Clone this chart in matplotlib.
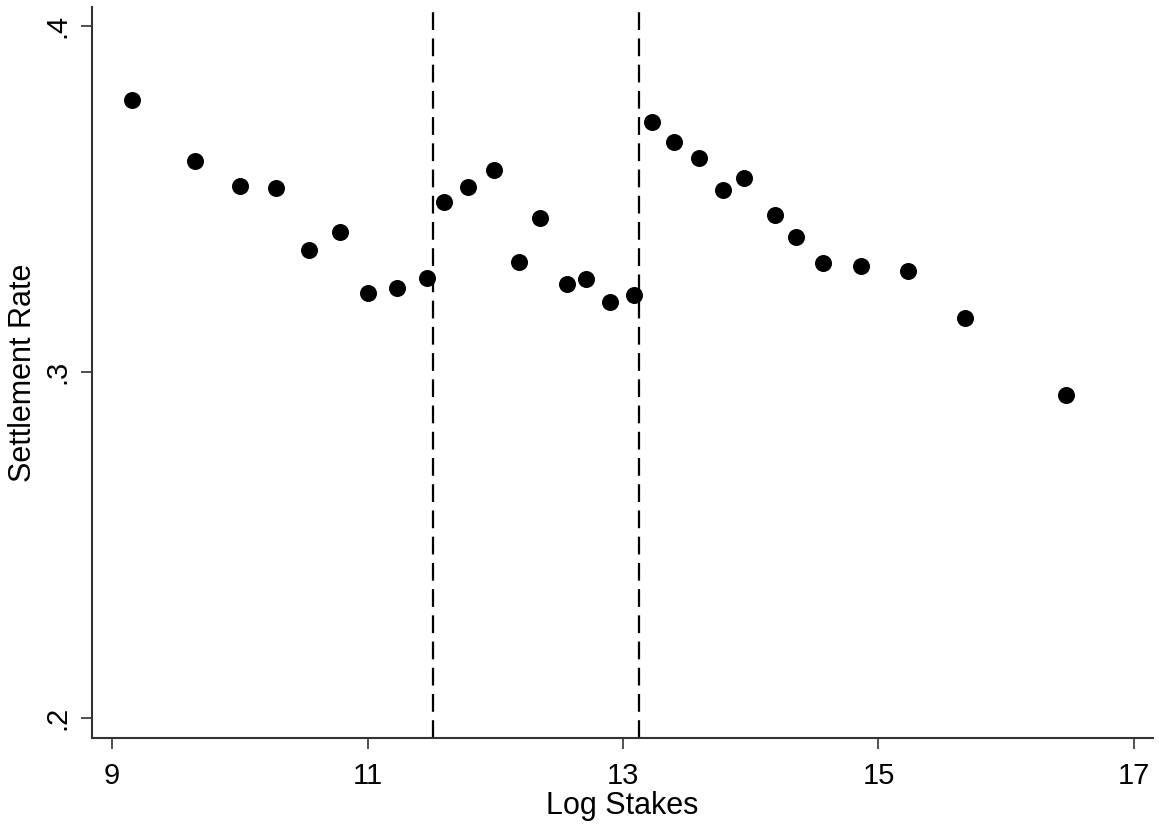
import numpy as np
import matplotlib.pyplot as plt

# binned means: log stakes vs settlement rate
log_stakes = [9.157, 9.652, 10.000, 10.286, 10.540, 10.787, 11.001, 11.234,
              11.468, 11.596, 11.789, 11.993, 12.186, 12.348, 12.562, 12.710,
              12.901, 13.088, 13.229, 13.402, 13.595, 13.785, 13.945, 14.187,
              14.354, 14.563, 14.863, 15.228, 15.675, 16.469]
settle_rate = [0.3785, 0.3608, 0.3537, 0.3530, 0.3352, 0.3403, 0.3229, 0.3243,
               0.3272, 0.3491, 0.3534, 0.3582, 0.3317, 0.3444, 0.3254, 0.3267,
               0.3201, 0.3221, 0.3723, 0.3663, 0.3618, 0.3525, 0.3561, 0.3454,
               0.3390, 0.3315, 0.3307, 0.3292, 0.3155, 0.2934]

# thresholds (log of 100k and 500k)
cutoffs = [np.log(100000), np.log(500000)]

x_ticks = [9, 11, 13, 15, 17]
y_ticks = [0.2, 0.3, 0.4]
y_tick_labels = ['.2', '.3', '.4']

plt.rcParams['font.family'] = ['Liberation Sans', 'DejaVu Sans']

fig = plt.figure(figsize=(11.59, 8.26), dpi=100)
ax = fig.add_axes([0.0794, 0.1065, 0.9154, 0.885])

ax.scatter(log_stakes, settle_rate, s=150, color='black', zorder=3, linewidths=0)
for c in cutoffs:
    ax.axvline(c, color='black', linestyle=(0, (8, 3.8)), linewidth=1.6, zorder=2)

ax.set_xlim(8.843, 17.149)
ax.set_ylim(0.1942, 0.4054)
ax.set_xticks(x_ticks)
ax.set_yticks(y_ticks)
ax.set_yticklabels(y_tick_labels, rotation=90, va='center')

for side in ['top', 'right']:
    ax.spines[side].set_visible(False)
for side in ['left', 'bottom']:
    ax.spines[side].set_color('#333333')
    ax.spines[side].set_linewidth(1.5)

ax.tick_params(axis='both', direction='out', length=8, width=1.2,
               color='#333333', labelsize=21)
ax.tick_params(axis='x', pad=9)
ax.tick_params(axis='y', pad=7)

ax.set_xlabel('Log Stakes', fontsize=22, labelpad=1)
ax.set_ylabel('Settlement Rate', fontsize=22, labelpad=4)

fig.savefig('out.png', dpi=100)
